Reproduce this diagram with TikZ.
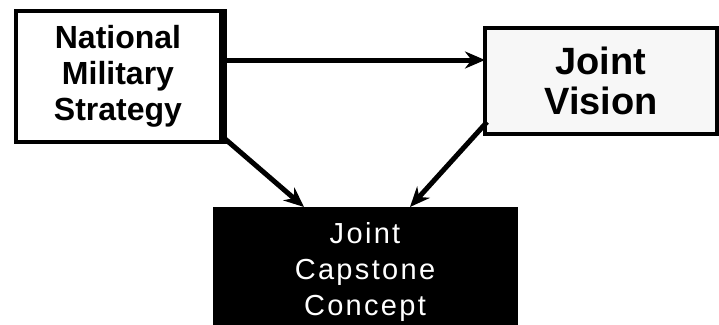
\documentclass[tikz,border=0pt]{standalone}
\usepackage{fontspec}
\setmainfont{Liberation Sans}
\usetikzlibrary{arrows.meta}
\begin{document}
\begin{tikzpicture}[x=1pt,y=-1pt,
  topbox/.style={draw=black,line width=4pt,fill=white,inner sep=0pt,font=\bfseries,align=center},
  capbox/.style={draw=black,fill=black,inner sep=0pt,text=white,align=center},
  conn/.style={line width=5pt,-{Stealth[length=20pt,width=17pt]}}]
\useasboundingbox (0,0) rectangle (719,324);
\node[topbox,minimum width=205pt,minimum height=131pt,
  font=\bfseries\fontsize{32}{36}\selectfont] (nms) at (118,76.5) {National\\Military\\Strategy};
\draw[line width=4pt] ([xshift=2pt]nms.north east) -- ([xshift=2pt]nms.south east);
\node[topbox,minimum width=232pt,minimum height=106pt,fill=gray!6,
  font=\bfseries\fontsize{38}{40}\selectfont] (jv) at (601,81) {Joint\\Vision};
\node[capbox,minimum width=304pt,minimum height=130pt,
  font=\fontsize{29}{36}\selectfont\addfontfeatures{LetterSpace=8}] (jcc) at (365,272) {Joint\\Capstone\\Concept};
\coordinate (nmsr) at (224,60);
\coordinate (jvl) at (485,60);
\draw[conn] (nmsr) -- (jvl);
\coordinate (nmsc) at (224,138);
\coordinate (jccl) at (304,207);
\draw[conn] (nmsc) -- (jccl);
\coordinate (jvc) at (487,122);
\coordinate (jccr) at (410,207);
\draw[conn] (jvc) -- (jccr);
\end{tikzpicture}
\end{document}
